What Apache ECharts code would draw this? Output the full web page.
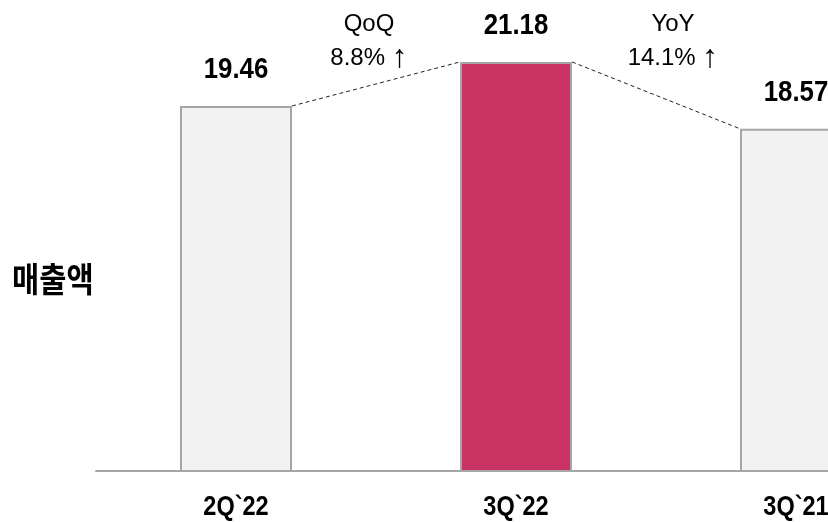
<!DOCTYPE html>
<html>
<head>
<meta charset="utf-8">
<script src="https://cdn.jsdelivr.net/npm/echarts@6/dist/echarts.min.js"></script>
<style>
  html, body { margin: 0; padding: 0; background: #fff; }
  #chart { width: 828px; height: 522px; }
</style>
</head>
<body>
<div id="chart"></div>
<script>
// 분기 매출액 (조원)
var quarters = ["2Q`22", "3Q`22", "3Q`21"];
var sales = [19.46, 21.18, 18.57];
var highlightIndex = 1;
var growthNames = ["QoQ", "YoY"];
var growthRates = ["8.8%", "14.1%"];

var yMin = 5.2;
var yMax = 23.6;
var boldFont = 'bold 30px "Liberation Sans", Arial, sans-serif';
var catFont = 'bold 28px "Liberation Sans", Arial, sans-serif';

var myChart = echarts.init(document.getElementById("chart"));

var barData = sales.map(function (v, i) {
  return {
    value: v,
    itemStyle: { color: i === highlightIndex ? "#c83363" : "#f2f2f2" }
  };
});

// 막대 모서리를 잇는 점선 + 값/분기 라벨 (좁은 글꼴 대신 가로 축소)
function renderExtras(params, api) {
  var i = params.dataIndex;
  var half = api.size([1, 0])[0] * 0.2;
  var top = api.coord([i, sales[i]]);
  var base = api.coord([i, yMin]);
  var children = [
    {
      type: "text",
      x: top[0],
      y: top[1] - 36,
      scaleX: 0.86,
      style: {
        text: String(sales[i]),
        font: boldFont,
        fill: "#000",
        align: "center",
        verticalAlign: "middle"
      }
    },
    {
      type: "text",
      x: base[0],
      y: base[1] + 36,
      scaleX: 0.84,
      style: {
        text: quarters[i],
        font: catFont,
        fill: "#000",
        align: "center",
        verticalAlign: "middle"
      }
    }
  ];
  if (i < sales.length - 1) {
    var next = api.coord([i + 1, sales[i + 1]]);
    children.push({
      type: "line",
      shape: { x1: top[0] + half, y1: top[1], x2: next[0] - half, y2: next[1] },
      style: { stroke: "#222", lineWidth: 1, lineDash: [4, 3] }
    });
  }
  return { type: "group", children: children };
}

function growthText(k, x) {
  return {
    type: "text",
    x: x,
    y: 7,
    style: {
      text: growthNames[k] + "\n" + growthRates[k] + " {a|↑}",
      font: '24px "Liberation Sans", Arial, sans-serif',
      lineHeight: 34,
      align: "center",
      fill: "#000",
      rich: {
        a: { font: '32px "Liberation Sans", Arial, sans-serif', lineHeight: 34 }
      }
    }
  };
}

var option = {
  animation: false,
  grid: { left: 96, width: 840, top: 0, bottom: 51, outerBoundsMode: "none" },
  xAxis: {
    type: "category",
    data: quarters,
    axisTick: { show: false },
    axisLine: { lineStyle: { color: "#a6a6a6", width: 2 } },
    axisLabel: { show: false }
  },
  yAxis: {
    type: "value",
    min: yMin,
    max: yMax,
    show: false,
    splitLine: { show: false }
  },
  series: [
    {
      type: "bar",
      barWidth: "40%",
      data: barData,
      itemStyle: { borderColor: "#a6a6a6", borderWidth: 2 },
      z: 2
    },
    {
      type: "custom",
      renderItem: renderExtras,
      data: sales.map(function (v, i) { return [i, v]; }),
      clip: false,
      z: 3
    }
  ],
  graphic: [
    {
      type: "text",
      left: 12,
      top: 262,
      scaleX: 0.87,
      style: {
        text: "매출액",
        font: 'bold 34px "Noto Sans CJK KR", sans-serif',
        fill: "#000"
      }
    },
    growthText(0, 369),
    growthText(1, 673)
  ]
};

myChart.setOption(option);
</script>
</body>
</html>
